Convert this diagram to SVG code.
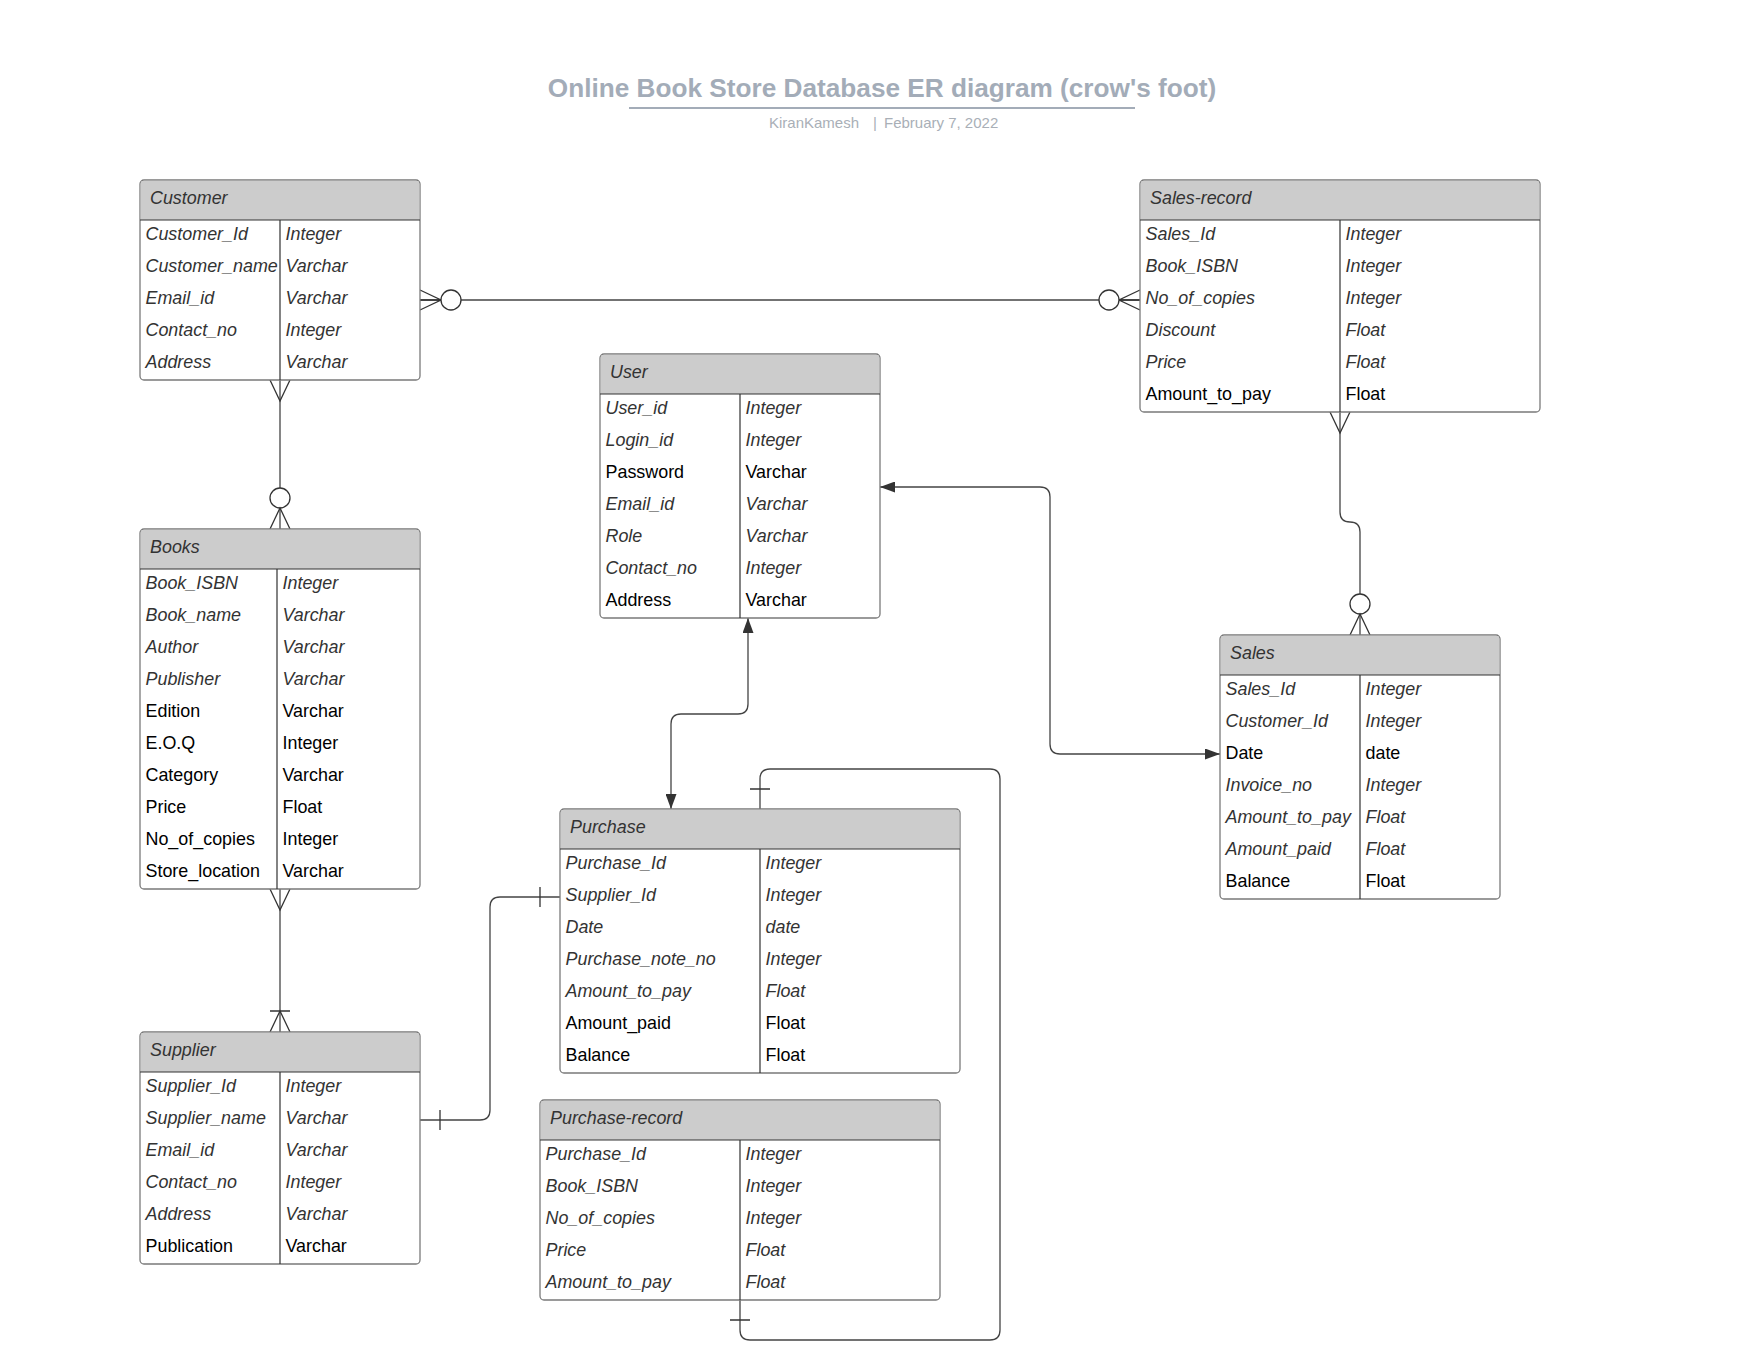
<svg xmlns="http://www.w3.org/2000/svg" width="1760" height="1360" viewBox="0 0 1760 1360">
<style>
.box{fill:#fff;stroke:#7a7a7a;stroke-width:1.3}
.hdr{fill:#cccccc;stroke:none}
.sep{stroke:#333;stroke-width:1.2;fill:none}
.h{font-family:"Liberation Sans",Arial,sans-serif;font-size:17.9px;font-style:italic;fill:#333}
.i{font-family:"Liberation Sans",Arial,sans-serif;font-size:17.9px;font-style:italic;fill:#333}
.n{font-family:"Liberation Sans",Arial,sans-serif;font-size:17.9px;fill:#000}
.ln{fill:none;stroke:#444;stroke-width:1.3}
.sym{fill:none;stroke:#333;stroke-width:1.3}
.circ{fill:#fff;stroke:#333;stroke-width:1.3}
.title{font-family:"Liberation Sans",Arial,sans-serif;font-size:26.2px;font-weight:bold;fill:#a3acb8}
.sub{font-family:"Liberation Sans",Arial,sans-serif;font-size:15px;fill:#a9afb7}
</style>
<defs>
<marker id="arr" viewBox="0 0 15 11" refX="15" refY="5.5" markerWidth="15" markerHeight="11" markerUnits="userSpaceOnUse" orient="auto-start-reverse">
<path d="M0,0 L15,5.5 L0,11 z" fill="#333"/>
</marker>
</defs>
<rect width="1760" height="1360" fill="#fff"/>

<g id="title">
<text class="title" x="882" y="97" text-anchor="middle">Online Book Store Database ER diagram (crow's foot)</text>
<line x1="629" y1="108" x2="1135" y2="108" stroke="#a3acb8" stroke-width="2"/>
<text class="sub" x="859" y="128" text-anchor="end">KiranKamesh</text>
<text class="sub" x="873" y="128">|</text>
<text class="sub" x="884" y="128">February 7, 2022</text>
</g>

<g id="connectors">
<!-- Customer - Sales-record -->
<path class="ln" d="M420,300 H1140"/>
<path class="sym" d="M420,290 L441,300 L420,310 M420,300 H441"/>
<circle class="circ" cx="451" cy="300" r="10"/>
<path class="sym" d="M1140,290 L1119,300 L1140,310 M1140,300 H1119"/>
<circle class="circ" cx="1109" cy="300" r="10"/>
<!-- Customer - Books -->
<path class="ln" d="M280,380 V529"/>
<path class="sym" d="M270,380 L280,401 L290,380"/>
<circle class="circ" cx="280" cy="498" r="10"/>
<path class="sym" d="M270,529 L280,508 L290,529"/>
<!-- Books - Supplier -->
<path class="ln" d="M280,889 V1032"/>
<path class="sym" d="M270,889 L280,910 L290,889"/>
<path class="sym" d="M270,1032 L280,1011 L290,1032 M270,1011 H290"/>
<!-- Supplier - Purchase -->
<path class="ln" d="M420,1120 H480 Q490,1120 490,1110 V907 Q490,897 500,897 H560"/>
<path class="sym" d="M440,1110 V1130 M540,887 V907"/>
<!-- User - Purchase -->
<path class="ln" d="M748,618 V704 Q748,714 738,714 H681 Q671,714 671,724 V809" marker-start="url(#arr)" marker-end="url(#arr)"/>
<!-- User - Sales -->
<path class="ln" d="M880,487 H1040 Q1050,487 1050,497 V744 Q1050,754 1060,754 H1220" marker-start="url(#arr)" marker-end="url(#arr)"/>
<!-- Sales-record - Sales -->
<path class="ln" d="M1340,412 V512 Q1340,522 1350,522 Q1360,522 1360,532 V635"/>
<path class="sym" d="M1330,412 L1340,433 L1350,412"/>
<circle class="circ" cx="1360" cy="604" r="10"/>
<path class="sym" d="M1350,635 L1360,614 L1370,635"/>
<!-- Purchase - Purchase-record -->
<path class="ln" d="M760,809 V779 Q760,769 770,769 H990 Q1000,769 1000,779 V1330 Q1000,1340 990,1340 H750 Q740,1340 740,1330 V1300"/>
<path class="sym" d="M750,789 H770 M730,1320 H750"/>
</g>

<g id="customer">
<rect class="box" x="140" y="180" width="280" height="200" rx="4"/>
<path class="hdr" d="M140.7,220 V184 Q140.7,180.7 144,180.7 H416 Q419.3,180.7 419.3,184 V220 Z"/>
<path class="sep" d="M140,220 H420 M280,220 V380"/>
<text class="h" x="150" y="203.5">Customer</text>
<text class="i" x="145.5" y="239.5">Customer_Id</text><text class="i" x="285.5" y="239.5">Integer</text>
<text class="i" x="145.5" y="271.5">Customer_name</text><text class="i" x="285.5" y="271.5">Varchar</text>
<text class="i" x="145.5" y="303.5">Email_id</text><text class="i" x="285.5" y="303.5">Varchar</text>
<text class="i" x="145.5" y="335.5">Contact_no</text><text class="i" x="285.5" y="335.5">Integer</text>
<text class="i" x="145.5" y="367.5">Address</text><text class="i" x="285.5" y="367.5">Varchar</text>
</g>

<g id="sales-record">
<rect class="box" x="1140" y="180" width="400" height="232" rx="4"/>
<path class="hdr" d="M1140.7,220 V184 Q1140.7,180.7 1144,180.7 H1536 Q1539.3,180.7 1539.3,184 V220 Z"/>
<path class="sep" d="M1140,220 H1540 M1340,220 V412"/>
<text class="h" x="1150" y="203.5">Sales-record</text>
<text class="i" x="1145.5" y="239.5">Sales_Id</text><text class="i" x="1345.5" y="239.5">Integer</text>
<text class="i" x="1145.5" y="271.5">Book_ISBN</text><text class="i" x="1345.5" y="271.5">Integer</text>
<text class="i" x="1145.5" y="303.5">No_of_copies</text><text class="i" x="1345.5" y="303.5">Integer</text>
<text class="i" x="1145.5" y="335.5">Discount</text><text class="i" x="1345.5" y="335.5">Float</text>
<text class="i" x="1145.5" y="367.5">Price</text><text class="i" x="1345.5" y="367.5">Float</text>
<text class="n" x="1145.5" y="399.5">Amount_to_pay</text><text class="n" x="1345.5" y="399.5">Float</text>
</g>

<g id="user">
<rect class="box" x="600" y="354" width="280" height="264" rx="4"/>
<path class="hdr" d="M600.7,394 V358 Q600.7,354.7 604,354.7 H876 Q879.3,354.7 879.3,358 V394 Z"/>
<path class="sep" d="M600,394 H880 M740,394 V618"/>
<text class="h" x="610" y="377.5">User</text>
<text class="i" x="605.5" y="413.5">User_id</text><text class="i" x="745.5" y="413.5">Integer</text>
<text class="i" x="605.5" y="445.5">Login_id</text><text class="i" x="745.5" y="445.5">Integer</text>
<text class="n" x="605.5" y="477.5">Password</text><text class="n" x="745.5" y="477.5">Varchar</text>
<text class="i" x="605.5" y="509.5">Email_id</text><text class="i" x="745.5" y="509.5">Varchar</text>
<text class="i" x="605.5" y="541.5">Role</text><text class="i" x="745.5" y="541.5">Varchar</text>
<text class="i" x="605.5" y="573.5">Contact_no</text><text class="i" x="745.5" y="573.5">Integer</text>
<text class="n" x="605.5" y="605.5">Address</text><text class="n" x="745.5" y="605.5">Varchar</text>
</g>

<g id="books">
<rect class="box" x="140" y="529" width="280" height="360" rx="4"/>
<path class="hdr" d="M140.7,569 V533 Q140.7,529.7 144,529.7 H416 Q419.3,529.7 419.3,533 V569 Z"/>
<path class="sep" d="M140,569 H420 M277,569 V889"/>
<text class="h" x="150" y="552.5">Books</text>
<text class="i" x="145.5" y="588.5">Book_ISBN</text><text class="i" x="282.5" y="588.5">Integer</text>
<text class="i" x="145.5" y="620.5">Book_name</text><text class="i" x="282.5" y="620.5">Varchar</text>
<text class="i" x="145.5" y="652.5">Author</text><text class="i" x="282.5" y="652.5">Varchar</text>
<text class="i" x="145.5" y="684.5">Publisher</text><text class="i" x="282.5" y="684.5">Varchar</text>
<text class="n" x="145.5" y="716.5">Edition</text><text class="n" x="282.5" y="716.5">Varchar</text>
<text class="n" x="145.5" y="748.5">E.O.Q</text><text class="n" x="282.5" y="748.5">Integer</text>
<text class="n" x="145.5" y="780.5">Category</text><text class="n" x="282.5" y="780.5">Varchar</text>
<text class="n" x="145.5" y="812.5">Price</text><text class="n" x="282.5" y="812.5">Float</text>
<text class="n" x="145.5" y="844.5">No_of_copies</text><text class="n" x="282.5" y="844.5">Integer</text>
<text class="n" x="145.5" y="876.5">Store_location</text><text class="n" x="282.5" y="876.5">Varchar</text>
</g>

<g id="sales">
<rect class="box" x="1220" y="635" width="280" height="264" rx="4"/>
<path class="hdr" d="M1220.7,675 V639 Q1220.7,635.7 1224,635.7 H1496 Q1499.3,635.7 1499.3,639 V675 Z"/>
<path class="sep" d="M1220,675 H1500 M1360,675 V899"/>
<text class="h" x="1230" y="658.5">Sales</text>
<text class="i" x="1225.5" y="694.5">Sales_Id</text><text class="i" x="1365.5" y="694.5">Integer</text>
<text class="i" x="1225.5" y="726.5">Customer_Id</text><text class="i" x="1365.5" y="726.5">Integer</text>
<text class="n" x="1225.5" y="758.5">Date</text><text class="n" x="1365.5" y="758.5">date</text>
<text class="i" x="1225.5" y="790.5">Invoice_no</text><text class="i" x="1365.5" y="790.5">Integer</text>
<text class="i" x="1225.5" y="822.5">Amount_to_pay</text><text class="i" x="1365.5" y="822.5">Float</text>
<text class="i" x="1225.5" y="854.5">Amount_paid</text><text class="i" x="1365.5" y="854.5">Float</text>
<text class="n" x="1225.5" y="886.5">Balance</text><text class="n" x="1365.5" y="886.5">Float</text>
</g>

<g id="purchase">
<rect class="box" x="560" y="809" width="400" height="264" rx="4"/>
<path class="hdr" d="M560.7,849 V813 Q560.7,809.7 564,809.7 H956 Q959.3,809.7 959.3,813 V849 Z"/>
<path class="sep" d="M560,849 H960 M760,849 V1073"/>
<text class="h" x="570" y="832.5">Purchase</text>
<text class="i" x="565.5" y="868.5">Purchase_Id</text><text class="i" x="765.5" y="868.5">Integer</text>
<text class="i" x="565.5" y="900.5">Supplier_Id</text><text class="i" x="765.5" y="900.5">Integer</text>
<text class="i" x="565.5" y="932.5">Date</text><text class="i" x="765.5" y="932.5">date</text>
<text class="i" x="565.5" y="964.5">Purchase_note_no</text><text class="i" x="765.5" y="964.5">Integer</text>
<text class="i" x="565.5" y="996.5">Amount_to_pay</text><text class="i" x="765.5" y="996.5">Float</text>
<text class="n" x="565.5" y="1028.5">Amount_paid</text><text class="n" x="765.5" y="1028.5">Float</text>
<text class="n" x="565.5" y="1060.5">Balance</text><text class="n" x="765.5" y="1060.5">Float</text>
</g>

<g id="supplier">
<rect class="box" x="140" y="1032" width="280" height="232" rx="4"/>
<path class="hdr" d="M140.7,1072 V1036 Q140.7,1032.7 144,1032.7 H416 Q419.3,1032.7 419.3,1036 V1072 Z"/>
<path class="sep" d="M140,1072 H420 M280,1072 V1264"/>
<text class="h" x="150" y="1055.5">Supplier</text>
<text class="i" x="145.5" y="1091.5">Supplier_Id</text><text class="i" x="285.5" y="1091.5">Integer</text>
<text class="i" x="145.5" y="1123.5">Supplier_name</text><text class="i" x="285.5" y="1123.5">Varchar</text>
<text class="i" x="145.5" y="1155.5">Email_id</text><text class="i" x="285.5" y="1155.5">Varchar</text>
<text class="i" x="145.5" y="1187.5">Contact_no</text><text class="i" x="285.5" y="1187.5">Integer</text>
<text class="i" x="145.5" y="1219.5">Address</text><text class="i" x="285.5" y="1219.5">Varchar</text>
<text class="n" x="145.5" y="1251.5">Publication</text><text class="n" x="285.5" y="1251.5">Varchar</text>
</g>

<g id="purchase-record">
<rect class="box" x="540" y="1100" width="400" height="200" rx="4"/>
<path class="hdr" d="M540.7,1140 V1104 Q540.7,1100.7 544,1100.7 H936 Q939.3,1100.7 939.3,1104 V1140 Z"/>
<path class="sep" d="M540,1140 H940 M740,1140 V1300"/>
<text class="h" x="550" y="1123.5">Purchase-record</text>
<text class="i" x="545.5" y="1159.5">Purchase_Id</text><text class="i" x="745.5" y="1159.5">Integer</text>
<text class="i" x="545.5" y="1191.5">Book_ISBN</text><text class="i" x="745.5" y="1191.5">Integer</text>
<text class="i" x="545.5" y="1223.5">No_of_copies</text><text class="i" x="745.5" y="1223.5">Integer</text>
<text class="i" x="545.5" y="1255.5">Price</text><text class="i" x="745.5" y="1255.5">Float</text>
<text class="i" x="545.5" y="1287.5">Amount_to_pay</text><text class="i" x="745.5" y="1287.5">Float</text>
</g>
</svg>
